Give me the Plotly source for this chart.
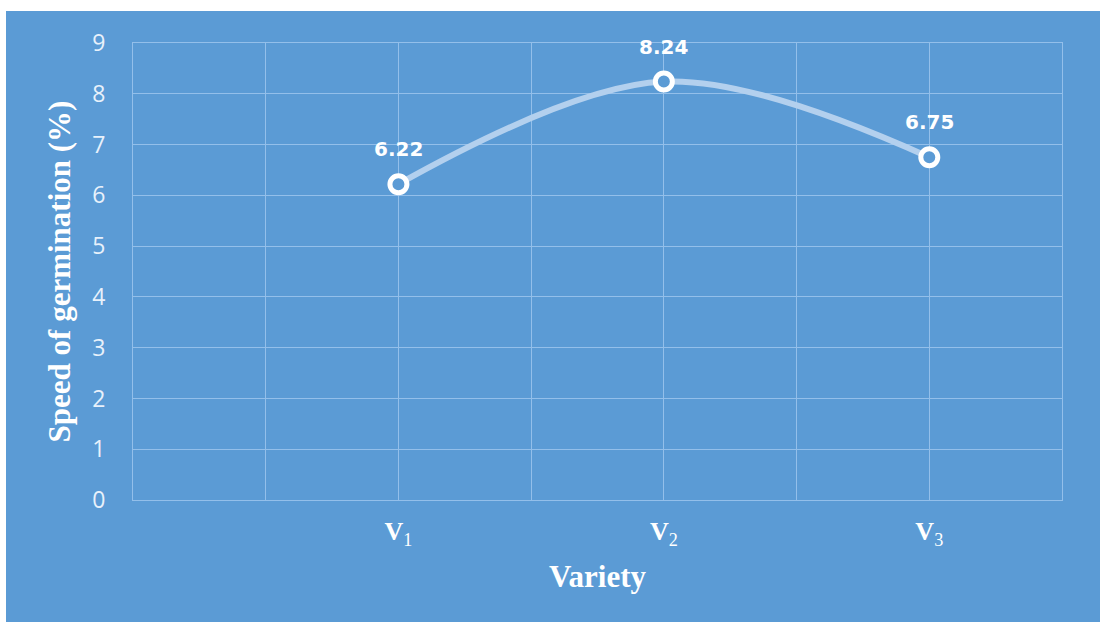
import plotly.graph_objects as go

# Speed of germination per variety
varieties = ["V1", "V2", "V3"]
speed = [6.22, 8.24, 6.75]

# Category axis: varieties sit on every second gridline of a 7-cell grid
x_pos = [2 * (i + 1) for i in range(len(varieties))]
x_grid = list(range(0, 8))
x_text = ["" for _ in x_grid]
for p, v in zip(x_pos, varieties):
    x_text[p] = f"<b>{v[0]}</b><sub>{v[1:]}</sub>"

y_ticks = list(range(0, 10))

BLUE = "#5b9bd5"
GRID = "#93bfea"
LINE = "#b3d0ee"
WHITE = "#ffffff"

fig = go.Figure()

fig.add_trace(go.Scatter(
    x=x_pos,
    y=speed,
    mode="lines+markers",
    line=dict(color=LINE, width=6, shape="spline", smoothing=1.0),
    marker=dict(symbol="circle", size=17, color=BLUE,
                line=dict(color=WHITE, width=5)),
    hoverinfo="skip",
    showlegend=False,
))

for xp, v in zip(x_pos, speed):
    fig.add_annotation(
        x=xp, y=v, text=f"<b>{v:.2f}</b>", showarrow=False,
        yshift=35, font=dict(family="DejaVu Sans", size=20, color=WHITE),
    )

fig.update_layout(
    width=1100, height=622,
    margin=dict(l=133, r=38, t=43, b=122),
    paper_bgcolor="white",
    plot_bgcolor="rgba(0,0,0,0)",
    shapes=[dict(type="rect", xref="paper", yref="paper",
                 x0=-127 / 929, x1=1 + 40 / 929, y0=-122 / 457, y1=1 + 32 / 457,
                 fillcolor=BLUE, line=dict(width=0), layer="below")],
    xaxis=dict(
        range=[0, 7], tickmode="array", tickvals=x_grid, ticktext=x_text,
        showgrid=True, gridcolor=GRID, gridwidth=1, zeroline=False,
        showline=True, mirror=True, linecolor=GRID, linewidth=1,
        ticks="outside", ticklen=8, tickcolor="rgba(0,0,0,0)",
        tickfont=dict(family="Liberation Serif", size=26, color=WHITE),
        title=dict(text="<b>Variety</b>", standoff=16,
                   font=dict(family="Liberation Serif", size=31, color=WHITE)),
        fixedrange=True,
    ),
    yaxis=dict(
        range=[0, 9], tickmode="array", tickvals=y_ticks,
        showgrid=True, gridcolor=GRID, gridwidth=1, zeroline=False,
        showline=True, mirror=True, linecolor=GRID, linewidth=1,
        ticks="outside", ticklen=22, tickcolor="rgba(0,0,0,0)",
        tickfont=dict(family="Open Sans", size=23, color="#e8f1fb"),
        title=dict(text="<b>Speed of germination (%)</b>", standoff=12,
                   font=dict(family="Liberation Serif", size=31, color=WHITE)),
        fixedrange=True,
    ),
)

fig.write_html("out.html")
